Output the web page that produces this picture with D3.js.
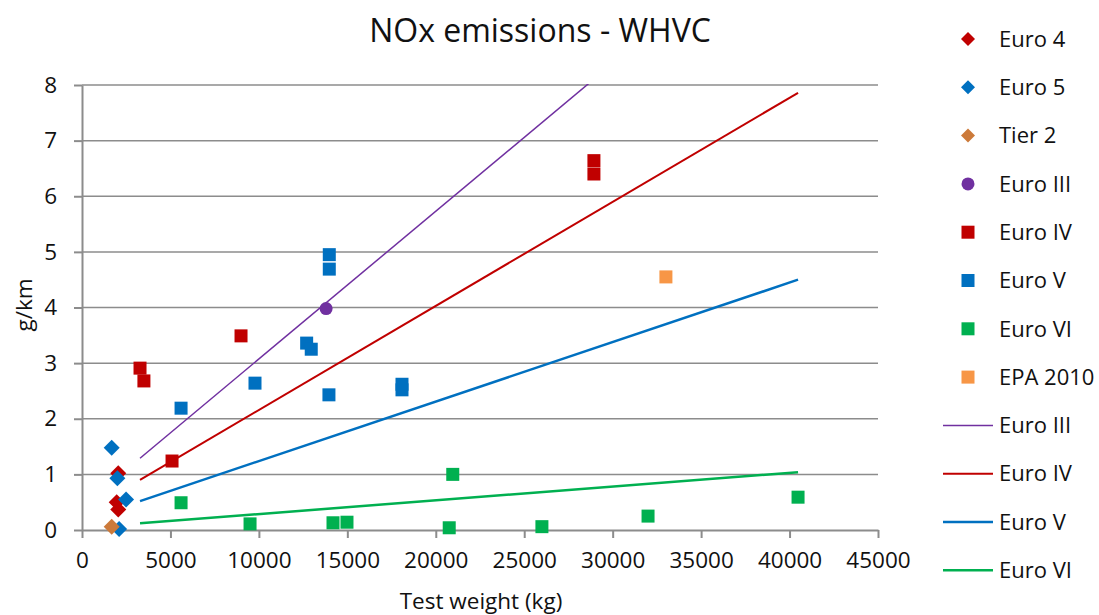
<!DOCTYPE html>
<html>
<head>
<meta charset="utf-8">
<script src="https://cdn.jsdelivr.net/npm/d3@7"></script>
<style>
  body { margin: 0; background: #fff; }
  svg text { font-family: "Open Sans", "Liberation Sans", sans-serif; fill: #111; }
</style>
</head>
<body>
<div class="chart-container"></div>
<script>
/* Data
   ========================================================================== */
var euro4   = [[2050, 1.02], [1960, 0.50], [2050, 0.37]];
var euro5   = [[1680, 1.48], [2000, 0.93], [2490, 0.55], [2100, 0.02]];
var tier2   = [[1680, 0.06]];
var euroIII = [[13800, 3.98]];
var euroIV  = [[5090, 1.24], [8990, 3.49], [3280, 2.91], [3500, 2.68], [28940, 6.64], [28940, 6.40]];
var euroV   = [[13980, 4.95], [13980, 4.69], [12700, 3.36], [12960, 3.25], [5600, 2.19],
               [9780, 2.64], [13960, 2.43], [18090, 2.62], [18090, 2.52]];
var euroVI  = [[5600, 0.49], [9500, 0.11], [14190, 0.13], [14980, 0.14], [20960, 1.00],
               [20760, 0.04], [26000, 0.06], [32000, 0.25], [40480, 0.59]];
var epa2010 = [[33010, 4.55]];

// trend lines: value at start and end of the fitted range
var trendX       = [3280, 40480];
var trendEuroIII = [1.29, 11.17];
var trendEuroIV  = [0.90, 7.86];
var trendEuroV   = [0.52, 4.50];
var trendEuroVI  = [0.12, 1.04];

var xTicks = [0, 5000, 10000, 15000, 20000, 25000, 30000, 35000, 40000, 45000];
var yTicks = [0, 1, 2, 3, 4, 5, 6, 7, 8];

var pointSeries = [
    { name: "Euro 4",   data: euro4,   shape: "diamond", color: "#C00000" },
    { name: "Euro 5",   data: euro5,   shape: "diamond", color: "#0070C0" },
    { name: "Tier 2",   data: tier2,   shape: "diamond", color: "#CC7A3A" },
    { name: "Euro III", data: euroIII, shape: "circle",  color: "#7030A0" },
    { name: "Euro IV",  data: euroIV,  shape: "square",  color: "#C00000" },
    { name: "Euro V",   data: euroV,   shape: "square",  color: "#0070C0" },
    { name: "Euro VI",  data: euroVI,  shape: "square",  color: "#00B050" },
    { name: "EPA 2010", data: epa2010, shape: "square",  color: "#F79646" }
];
var lineSeries = [
    { name: "Euro III", data: trendEuroIII, color: "#7030A0", width: 1.5 },
    { name: "Euro IV",  data: trendEuroIV,  color: "#C00000", width: 2 },
    { name: "Euro V",   data: trendEuroV,   color: "#0070C0", width: 2.5 },
    { name: "Euro VI",  data: trendEuroVI,  color: "#00B050", width: 2.5 }
];

/* Chart
   ========================================================================== */
var W = 1099, H = 615;
var margin = { top: 85, right: 221, bottom: 85, left: 82 },
    width = W - margin.left - margin.right,
    height = H - margin.top - margin.bottom;

var x = d3.scaleLinear().domain([0, 45000]).range([0, width]);
var y = d3.scaleLinear().domain([0, 8]).range([height, 0]);

var svg = d3.select('.chart-container').append("svg")
    .attr("width", W)
    .attr("height", H);

svg.append("defs").append("clipPath").attr("id", "plot-clip")
    .append("rect").attr("width", width).attr("height", height + 1).attr("y", -1);

var g = svg.append("g")
    .attr("transform", "translate(" + margin.left + "," + margin.top + ")");

// Title
svg.append("text")
    .attr("x", 540).attr("y", 42)
    .attr("text-anchor", "middle")
    .style("font-size", "32px")
    .text("NOx emissions - WHVC");

// Horizontal gridlines
g.append("g")
    .selectAll("line")
    .data(yTicks.filter(function(d) { return d > 0; }))
    .enter().append("line")
    .attr("x1", 0).attr("x2", width)
    .attr("y1", function(d) { return y(d); })
    .attr("y2", function(d) { return y(d); })
    .attr("stroke", "#8c8c8c")
    .attr("stroke-width", 1.5);

// x axis
var xAxis = g.append("g")
    .attr("class", "x-axis")
    .attr("transform", "translate(0," + height + ")")
    .call(d3.axisBottom(x).tickValues(xTicks).tickFormat(d3.format("d"))
        .tickSize(8).tickSizeOuter(0).tickPadding(14));
xAxis.select(".domain").attr("stroke", "#8c8c8c").attr("stroke-width", 2);
xAxis.selectAll(".tick line").attr("stroke", "#8c8c8c").attr("stroke-width", 2);
xAxis.selectAll("text").style("font-size", "22.5px").attr("fill", "#111");

// y axis
var yAxis = g.append("g")
    .attr("class", "y-axis")
    .call(d3.axisLeft(y).tickValues(yTicks).tickSize(8).tickSizeOuter(0).tickPadding(17));
yAxis.select(".domain").attr("stroke", "#8c8c8c").attr("stroke-width", 2);
yAxis.selectAll(".tick line").attr("stroke", "#8c8c8c").attr("stroke-width", 2);
yAxis.selectAll("text").style("font-size", "22.5px").attr("fill", "#111");

// Axis titles
svg.append("text")
    .attr("x", 481).attr("y", 609)
    .attr("text-anchor", "middle")
    .style("font-size", "22.5px")
    .text("Test weight (kg)");
svg.append("text")
    .attr("transform", "translate(32,305) rotate(-90)")
    .attr("text-anchor", "middle")
    .style("font-size", "22.5px")
    .text("g/km");

// Trend lines
var plot = g.append("g").attr("clip-path", "url(#plot-clip)");
lineSeries.forEach(function(s) {
    plot.append("line")
        .attr("x1", x(trendX[0])).attr("y1", y(s.data[0]))
        .attr("x2", x(trendX[1])).attr("y2", y(s.data[1]))
        .attr("stroke", s.color)
        .attr("stroke-width", s.width);
});

// Markers
function drawMarker(sel, shape, color) {
    if (shape === "diamond") {
        sel.append("path").attr("d", "M0,-8L8,0L0,8L-8,0Z").attr("fill", color);
    } else if (shape === "circle") {
        sel.append("circle").attr("r", 6.5).attr("fill", color);
    } else {
        sel.append("rect").attr("x", -6.5).attr("y", -6.5)
            .attr("width", 13).attr("height", 13).attr("fill", color);
    }
}

pointSeries.forEach(function(s) {
    g.append("g").selectAll("g")
        .data(s.data)
        .enter().append("g")
        .attr("transform", function(d) { return "translate(" + x(d[0]) + "," + y(d[1]) + ")"; })
        .each(function() { drawMarker(d3.select(this), s.shape, s.color); });
});

// Legend
var legend = svg.append("g");
var legendItems = pointSeries.map(function(s) { return { type: "point", s: s }; })
    .concat(lineSeries.map(function(s) { return { type: "line", s: s }; }));
legendItems.forEach(function(item, i) {
    var ly = 39 + i * 48.3;
    var li = legend.append("g").attr("transform", "translate(0," + ly + ")");
    if (item.type === "point") {
        var m = li.append("g").attr("transform", "translate(968,0)");
        if (item.s.shape === "diamond") {
            m.append("path").attr("d", "M0,-7L7,0L0,7L-7,0Z").attr("fill", item.s.color);
        } else if (item.s.shape === "circle") {
            m.append("circle").attr("r", 6.5).attr("fill", item.s.color);
        } else {
            m.append("rect").attr("x", -6.5).attr("y", -6.5)
                .attr("width", 13).attr("height", 13).attr("fill", item.s.color);
        }
    } else {
        li.append("line")
            .attr("x1", 943).attr("x2", 993)
            .attr("stroke", item.s.color)
            .attr("stroke-width", item.s.width);
    }
    li.append("text")
        .attr("x", 999).attr("y", 0)
        .attr("dy", "0.35em")
        .style("font-size", "22px")
        .text(item.s.name);
});
</script>
</body>
</html>
